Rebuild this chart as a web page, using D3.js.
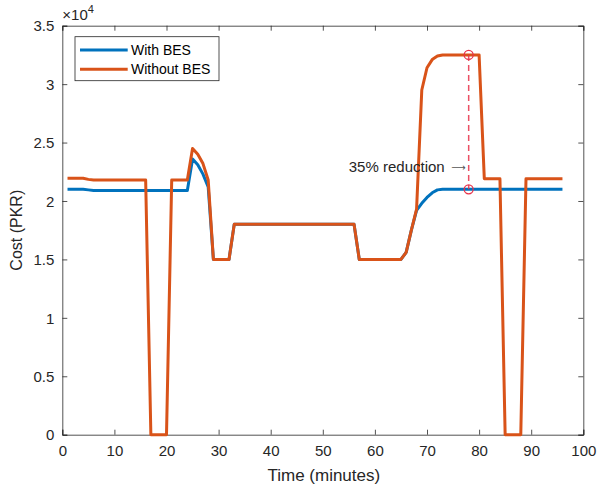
<!DOCTYPE html>
<html>
<head>
<meta charset="utf-8">
<script src="https://cdn.jsdelivr.net/npm/d3@7"></script>
<style>
  body { margin: 0; background: #fff; }
  text { font-family: "Liberation Sans", Arial, sans-serif; }
</style>
</head>
<body>
<svg id="chart" width="597" height="489"></svg>
<script>
const time = [1,2,3,4,5,6,7,8,9,10,11,12,13,14,15,16,17,18,19,20,21,22,23,24,25,26,27,28,29,30,31,32,33,34,35,36,37,38,39,40,41,42,43,44,45,46,47,48,49,50,51,52,53,54,55,56,57,58,59,60,61,62,63,64,65,66,67,68,69,70,71,72,73,74,75,76,77,78,79,80,81,82,83,84,85,86,87,88,89,90,91,92,93,94,95,96];
const withBES = [
  21000,21000,21000,21000,20950,20900,20900,20900,20900,20900,20900,20900,20900,20900,20900,20900,
  20900,20900,20900,20900,20900,20900,20900,20900,
  23600,23100,22300,21200,
  15000,15000,15000,15000,
  18000,18000,18000,18000,18000,18000,18000,18000,18000,18000,18000,18000,18000,18000,18000,18000,18000,18000,18000,18000,18000,18000,18000,18000,
  15000,15000,15000,15000,15000,15000,15000,15000,15000,
  15600,17500,19200,19800,20300,20700,20950,
  21000,21000,21000,21000,21000,21000,21000,21000,21000,21000,21000,21000,21000,21000,21000,21000,21000,21000,21000,21000,21000,21000,21000,21000
];
const withoutBES = [
  21950,21950,21950,21950,21850,21800,21800,21800,21800,21800,21800,21800,21800,21800,21800,21800,
  0,0,0,0,
  21800,21800,21800,21800,
  24500,24000,23200,21800,
  15000,15000,15000,15000,
  18000,18000,18000,18000,18000,18000,18000,18000,18000,18000,18000,18000,18000,18000,18000,18000,18000,18000,18000,18000,18000,18000,18000,18000,
  15000,15000,15000,15000,15000,15000,15000,15000,15000,
  15600,17500,19300,29500,31400,32100,32400,
  32500,32500,32500,32500,32500,32500,32500,32500,
  21900,21900,21900,21900,
  0,0,0,0,
  21900,21900,21900,21900,21900,21900,21900,21900
];
const seriesNames = ["With BES", "Without BES"];
const xTicks = [0,10,20,30,40,50,60,70,80,90,100];
const yTicks = [0,5000,10000,15000,20000,25000,30000,35000];
const yTickLabels = ["0","0.5","1","1.5","2","2.5","3","3.5"];
const annotTime = 78;
const annotHigh = 32500;
const annotLow = 21000;
const annotText = "35% reduction";
const annotArrow = "\u27F6";

const svg = d3.select("#chart");
const L = 62.3, R = 583.3, T = 25.7, B = 434.7;
const x = d3.scaleLinear().domain([0, 100]).range([L, R]);
const y = d3.scaleLinear().domain([0, 35000]).range([B, T]);
const axisColor = "#262626";
const blue = "#0072BD", orange = "#D95319";

// Axes
const gx = svg.append("g").attr("transform", `translate(0,${B})`)
  .call(d3.axisBottom(x).tickValues(xTicks).tickSize(-5).tickPadding(11).tickFormat(d3.format("d")));
const gy = svg.append("g").attr("transform", `translate(${L},0)`)
  .call(d3.axisLeft(y).tickValues(yTicks).tickSize(-5).tickPadding(8).tickFormat((d,i) => yTickLabels[i]));
const gxt = svg.append("g").attr("transform", `translate(0,${T})`)
  .call(d3.axisTop(x).tickValues(xTicks).tickSize(-5).tickFormat(""));
const gyr = svg.append("g").attr("transform", `translate(${R},0)`)
  .call(d3.axisRight(y).tickValues(yTicks).tickSize(-5).tickFormat(""));
[gx, gy, gxt, gyr].forEach(g => {
  g.select(".domain").attr("stroke", axisColor).attr("stroke-width", 0.8);
  g.selectAll(".tick line").attr("stroke", axisColor).attr("stroke-width", 0.8);
  g.selectAll(".tick text").attr("fill", axisColor).style("font-size", "15px")
    .style("font-family", "'Liberation Sans', Arial, sans-serif");
});
gy.selectAll(".tick text").attr("dy", "0.35em");

// exponent label
const ex = svg.append("text").attr("x", L).attr("y", 20).attr("fill", axisColor).style("font-size", "15px");
ex.append("tspan").text("\u00d710");
ex.append("tspan").attr("dy", -7).style("font-size", "11px").text("4");

// axis titles
svg.append("text").attr("x", (L + R) / 2 + 1).attr("y", 481).attr("text-anchor", "middle")
  .attr("fill", axisColor).style("font-size", "17px").text("Time (minutes)");
svg.append("text").attr("transform", `translate(22,${(T + B) / 2}) rotate(-90)`).attr("text-anchor", "middle")
  .attr("fill", axisColor).style("font-size", "16px").text("Cost (PKR)");

// lines
const line = d3.line().x((d, i) => x(time[i])).y(d => y(d));
svg.append("path").datum(withBES).attr("d", line).attr("fill", "none")
  .attr("stroke", blue).attr("stroke-width", 3).attr("stroke-linejoin", "round");
svg.append("path").datum(withoutBES).attr("d", line).attr("fill", "none")
  .attr("stroke", orange).attr("stroke-width", 3).attr("stroke-linejoin", "round");

// annotation
const red = "#E8324A";
svg.append("line").attr("x1", x(annotTime)).attr("x2", x(annotTime))
  .attr("y1", y(annotHigh)).attr("y2", y(annotLow))
  .attr("stroke", red).attr("stroke-width", 1.5).attr("stroke-dasharray", "6,4").attr("opacity", 0.85);
[annotHigh, annotLow].forEach(v => {
  svg.append("circle").attr("cx", x(annotTime)).attr("cy", y(v)).attr("r", 4.5)
    .attr("fill", "none").attr("stroke", red).attr("stroke-width", 1.3);
});
svg.append("text").attr("x", x(annotTime) - 24).attr("y", 172).attr("text-anchor", "end")
  .attr("fill", axisColor).style("font-size", "15px").text(annotText);
svg.append("text").attr("x", x(annotTime) - 3).attr("y", 171).attr("text-anchor", "end")
  .attr("fill", "#555").style("font-size", "10px").style("font-family", "'DejaVu Sans', sans-serif")
  .text(annotArrow);

// legend
const lg = svg.append("g");
lg.append("rect").attr("x", 75).attr("y", 36.7).attr("width", 144).attr("height", 44)
  .attr("fill", "#fff").attr("stroke", axisColor).attr("stroke-width", 0.8);
[blue, orange].forEach((c, i) => {
  const yy = 50 + i * 19.3;
  lg.append("line").attr("x1", 80).attr("x2", 127.7).attr("y1", yy).attr("y2", yy)
    .attr("stroke", c).attr("stroke-width", 3);
  lg.append("text").attr("x", 131).attr("y", yy).attr("dy", "0.35em")
    .attr("fill", "#000").style("font-size", "14px").text(seriesNames[i]);
});
</script>
</body>
</html>
